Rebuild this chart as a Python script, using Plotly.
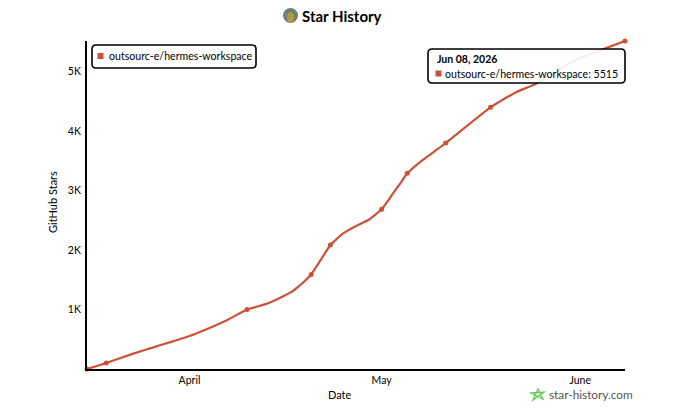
"""
Star History chart for outsourc-e/hermes-workspace
"""

import plotly.graph_objects as go

WIDTH = 680
HEIGHT = 408
FONT = "Lato"
LINE_COLOR = "#cb5137"

# Plot area in pixels, same numbers go into the margins
PLOT_LEFT = 87
PLOT_RIGHT = 625
PLOT_TOP = 41
PLOT_BOTTOM = 369

# Line
dates = [
    "2026-03-16", "2026-03-19", "2026-03-23", "2026-03-27", "2026-04-01", "2026-04-03",
    "2026-04-07", "2026-04-10", "2026-04-13", "2026-04-15", "2026-04-17", "2026-04-18",
    "2026-04-19", "2026-04-20", "2026-04-22", "2026-04-23", "2026-04-25", "2026-04-27",
    "2026-04-29", "2026-05-01", "2026-05-02", "2026-05-03", "2026-05-04", "2026-05-05",
    "2026-05-07", "2026-05-09", "2026-05-11", "2026-05-18", "2026-05-22", "2026-05-25",
    "2026-05-31", "2026-06-08",
]
stars = [
    0, 100, 250, 385, 555, 640,
    830, 1000, 1095, 1190, 1300, 1385,
    1480, 1590, 1920, 2085, 2280, 2405,
    2510, 2685, 2830, 2985, 3135, 3290,
    3480, 3640, 3800, 4400, 4655, 4790,
    5180, 5515,
]

# Only some of the points carry a dot
marker_dates = ["2026-03-16", "2026-03-19", "2026-04-10", "2026-04-20", "2026-04-23",
                "2026-05-01", "2026-05-05", "2026-05-11", "2026-05-18", "2026-06-08"]
marker_stars = [0, 100, 1000, 1590, 2085, 2685, 3290, 3800, 4400, 5515]

y_ticks = [1000, 2000, 3000, 4000, 5000]
y_labels = ["1K", "2K", "3K", "4K", "5K"]
x_ticks = ["2026-04-01", "2026-05-01", "2026-06-01"]
x_labels = ["April", "May", "June"]

REPO = "outsourc-e/hermes-workspace"


def px_x(x):
    """Pixel column to paper fraction (paper means the plot area)"""
    return (x - PLOT_LEFT) / (PLOT_RIGHT - PLOT_LEFT)


def px_y(y):
    return (PLOT_BOTTOM - y) / (PLOT_BOTTOM - PLOT_TOP)


def round_box(x0, y0, x1, y1, r=4):
    """Rounded rectangle path in paper coordinates, from pixel corners"""
    return (
        f"M {px_x(x0 + r)} {px_y(y0)} L {px_x(x1 - r)} {px_y(y0)} Q {px_x(x1)} {px_y(y0)} {px_x(x1)} {px_y(y0 + r)} "
        f"L {px_x(x1)} {px_y(y1 - r)} Q {px_x(x1)} {px_y(y1)} {px_x(x1 - r)} {px_y(y1)} "
        f"L {px_x(x0 + r)} {px_y(y1)} Q {px_x(x0)} {px_y(y1)} {px_x(x0)} {px_y(y1 - r)} "
        f"L {px_x(x0)} {px_y(y0 + r)} Q {px_x(x0)} {px_y(y0)} {px_x(x0 + r)} {px_y(y0)} Z"
    )


def label(text, x, y, size=10, color="#000000", anchor="left", angle=0):
    return dict(
        text=text, x=px_x(x), y=px_y(y), xref="paper", yref="paper",
        xanchor=anchor, yanchor="middle", showarrow=False, textangle=angle,
        font=dict(family=FONT, size=size, color=color),
    )


def circle(x0, y0, x1, y1, fill):
    return dict(type="circle", xref="paper", yref="paper", layer="above",
                x0=px_x(x0), x1=px_x(x1), y0=px_y(y0), y1=px_y(y1),
                fillcolor=fill, line_width=0)


def square(x0, y0, x1, y1):
    return dict(type="rect", xref="paper", yref="paper", layer="above",
                x0=px_x(x0), x1=px_x(x1), y0=px_y(y0), y1=px_y(y1),
                fillcolor=LINE_COLOR, line_width=0)


fig = go.Figure()

fig.add_trace(go.Scatter(
    x=dates, y=stars, mode="lines", name=REPO,
    line=dict(color=LINE_COLOR, width=2.2, shape="spline", smoothing=0.5),
    cliponaxis=False,
))
fig.add_trace(go.Scatter(
    x=marker_dates, y=marker_stars, mode="markers", name=REPO,
    marker=dict(color=LINE_COLOR, size=5, symbol="circle"),
    cliponaxis=False,
))

# Legend and tooltip are drawn as rounded boxes, the tooltip goes over the line
shapes = [
    dict(type="path", path=round_box(92, 45, 256, 68), xref="paper", yref="paper",
         layer="above", fillcolor="#ffffff", line=dict(color="#000000", width=1.6)),
    square(97.5, 53, 103.5, 59),
    dict(type="path", path=round_box(428, 49, 625, 83), xref="paper", yref="paper",
         layer="above", fillcolor="rgba(255,255,255,0.9)", line=dict(color="#000000", width=1.6)),
    square(435.5, 70.5, 441.5, 76.5),
    # avatar next to the title
    circle(283, 8, 298, 23, "#6f7f72"),
    circle(287, 12, 294, 23, "#b59a45"),
    # green star of the watermark
    dict(type="path", xref="paper", yref="paper", layer="above",
         path=(f"M {px_x(538)} {px_y(389)} L {px_x(543)} {px_y(399)} L {px_x(531)} {px_y(393)} "
               f"L {px_x(544)} {px_y(392)} L {px_x(533)} {px_y(400)} Z"),
         fillcolor="rgba(0,0,0,0)", line=dict(color="#5ec94f", width=1.3)),
]

# Axis titles as annotations, real axis titles push the margins and move the plot
annotations = [
    label("<b>Star History</b>", 300, 16, size=15),
    label(REPO, 107, 56, size=10.6),
    label("<b>Jun 08, 2026</b>", 435, 59, size=10.5),
    label(f"{REPO}: 5515", 443, 73.5, size=10.6),
    label("star-history.com", 547, 394, size=11.8, color="#555555"),
    label("Date", 340, 394, size=11, anchor="center"),
    label("GitHub Stars", 52, 202, size=11, anchor="center", angle=-90),
]

fig.update_layout(
    width=WIDTH,
    height=HEIGHT,
    autosize=False,
    margin=dict(l=PLOT_LEFT, r=WIDTH - PLOT_RIGHT, t=PLOT_TOP, b=HEIGHT - PLOT_BOTTOM),
    paper_bgcolor="#ffffff",
    plot_bgcolor="#ffffff",
    font=dict(family=FONT, size=10.5, color="#000000"),
    hovermode=False,
    shapes=shapes,
    annotations=annotations,
    showlegend=False,
    xaxis=dict(
        type="date", range=["2026-03-16", "2026-06-08"],
        tickmode="array", tickvals=x_ticks, ticktext=x_labels,
        showgrid=False, zeroline=False, showline=True,
        linecolor="#000000", linewidth=2, ticks="",
    ),
    yaxis=dict(
        range=[0, 5515],
        tickmode="array", tickvals=y_ticks, ticktext=y_labels,
        showgrid=False, zeroline=False, showline=True,
        linecolor="#000000", linewidth=2,
        ticks="outside", ticklen=2, tickcolor="#ffffff",
    ),
)

# the browser's default body margin would shift everything by 8px
fig.write_html("out.html", config={"displayModeBar": False},
               post_script="document.body.style.margin = '0';")
